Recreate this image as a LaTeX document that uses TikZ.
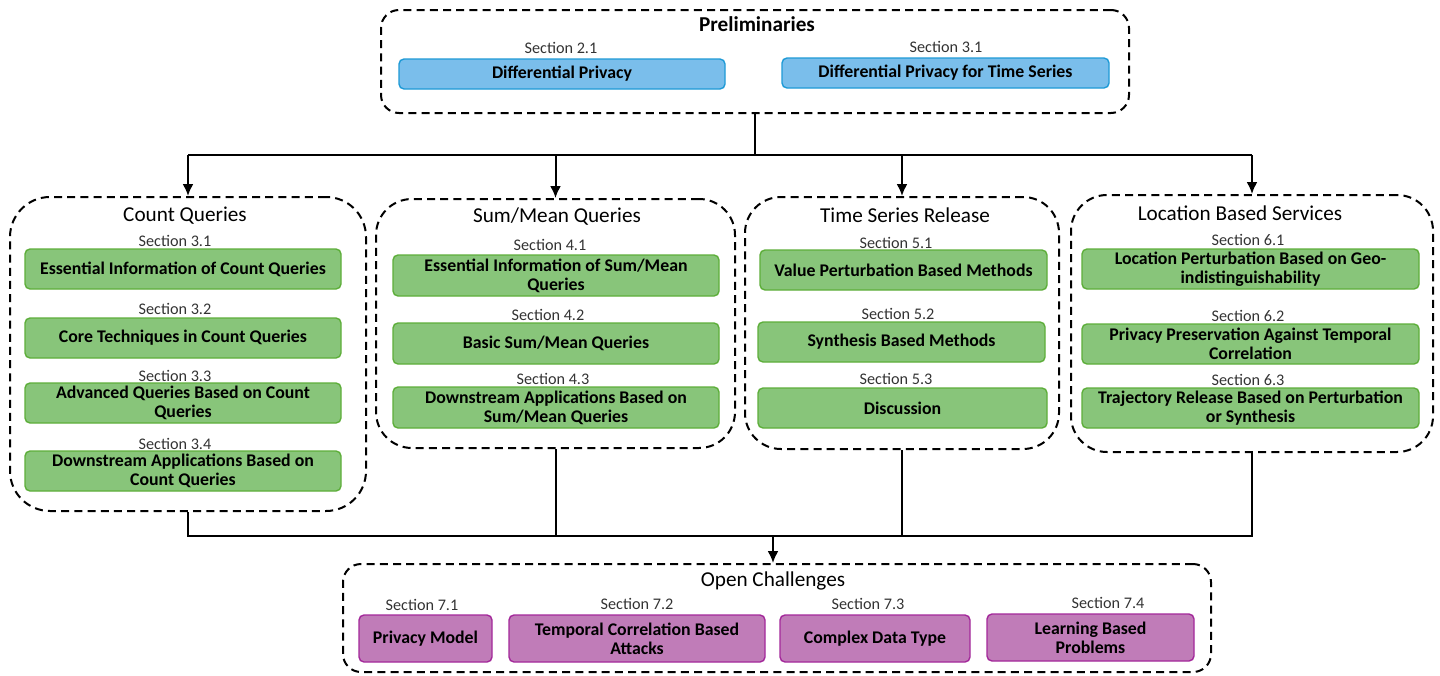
\documentclass[tikz,border=0pt]{standalone}
\usepackage{fontspec}
\setmainfont{Carlito}
\usetikzlibrary{fit,arrows.meta}
\definecolor{bfill}{HTML}{7ABEEB}
\definecolor{bline}{HTML}{1E9AD6}
\definecolor{gfill}{HTML}{88C57A}
\definecolor{gline}{HTML}{5DAE3A}
\definecolor{pfill}{HTML}{C07CB8}
\definecolor{pline}{HTML}{A3289A}
\definecolor{sectxt}{HTML}{333333}
\tikzset{
  x=0.5pt, y=-0.5pt,
  grp/.style={draw=black, line width=1pt, dash pattern=on 4pt off 2.6pt, inner sep=0pt},
  item/.style={inner sep=0pt, line width=0.7pt, rounded corners=2.5pt},
  itxt/.style={inner sep=0pt, align=center, font=\fontsize{8.9}{9.6}\selectfont\bfseries},
  bitem/.style={item, draw=bline, fill=bfill},
  gitem/.style={item, draw=gline, fill=gfill},
  pitem/.style={item, draw=pline, fill=pfill},
  sec/.style={inner sep=0pt, text=sectxt, font=\fontsize{8.1}{9}\selectfont},
  ttl/.style={inner sep=0pt, font=\fontsize{10.6}{12}\selectfont},
  conn/.style={line width=1pt},
  arr/.style={conn, -{Latex[length=6pt,width=5.5pt]}},
}
% \itembox{style}{name}{x1}{y1}{x2}{y2}{text}
\newcommand{\itembox}[7]{%
  \node[#1, fit={(#3,#4)(#5,#6)}] (#2) {};
  \node[itxt] (#2-t) at (#2.center) {#7};
}
\begin{document}
\begin{tikzpicture}
\useasboundingbox (0,0) rectangle (1440,675);

% Preliminaries
\node[grp, rounded corners=9pt, fit={(381,10)(1129,113)}] (pre) {};
\node[ttl] (preT) at (757,24) {\bfseries Preliminaries};
\node[sec] (s21) at (561,48) {Section 2.1};
\itembox{bitem}{dp}{399}{59}{725}{89}{Differential Privacy}
\node[sec] (s31a) at (946,47) {Section 3.1};
\itembox{bitem}{dpts}{782}{58}{1109}{88}{Differential Privacy for Time Series}

% Count Queries
\node[grp, rounded corners=20pt, fit={(10,197)(366,511)}] (cq) {};
\node[ttl] (cqT) at (185,216) {Count Queries};
\node[sec] (s31) at (175,241) {Section 3.1};
\itembox{gitem}{cq1}{25}{249}{341}{289}{Essential Information of Count Queries}
\node[sec] (s32) at (175,309) {Section 3.2};
\itembox{gitem}{cq2}{25}{318}{341}{358}{Core Techniques in Count Queries}
\node[sec] (s33) at (175,376) {Section 3.3};
\itembox{gitem}{cq3}{25}{383}{341}{423}{Advanced Queries Based on Count\\Queries}
\node[sec] (s34) at (175,444) {Section 3.4};
\itembox{gitem}{cq4}{25}{451}{341}{491}{Downstream Applications Based on\\Count Queries}

% Sum/Mean Queries
\node[grp, rounded corners=18pt, fit={(376,199)(735,448)}] (sm) {};
\node[ttl] (smT) at (557,217) {Sum/Mean Queries};
\node[sec] (s41) at (550,245) {Section 4.1};
\itembox{gitem}{sm1}{393}{255}{719}{296}{Essential Information of Sum/Mean\\Queries}
\node[sec] (s42) at (548,315) {Section 4.2};
\itembox{gitem}{sm2}{393}{323}{719}{364}{Basic Sum/Mean Queries}
\node[sec] (s43) at (553,379) {Section 4.3};
\itembox{gitem}{sm3}{393}{387}{719}{428}{Downstream Applications Based on\\Sum/Mean Queries}

% Time Series Release
\node[grp, rounded corners=18pt, fit={(745,197)(1059,449)}] (ts) {};
\node[ttl] (tsT) at (905,215) {Time Series Release};
\node[sec] (s51) at (896,243) {Section 5.1};
\itembox{gitem}{ts1}{760}{250}{1047}{290}{Value Perturbation Based Methods}
\node[sec] (s52) at (898,314) {Section 5.2};
\itembox{gitem}{ts2}{758}{322}{1045}{362}{Synthesis Based Methods}
\node[sec] (s53) at (896,379) {Section 5.3};
\itembox{gitem}{ts3}{758}{388}{1047}{428}{Discussion}

% Location Based Services
\node[grp, rounded corners=18pt, fit={(1071,195)(1433,452)}] (lbs) {};
\node[ttl] (lbsT) at (1240,213) {Location Based Services};
\node[sec] (s61) at (1248,240) {Section 6.1};
\itembox{gitem}{lb1}{1082}{249}{1419}{289}{Location Perturbation Based on Geo-\\indistinguishability}
\node[sec] (s62) at (1248,316) {Section 6.2};
\itembox{gitem}{lb2}{1082}{324}{1419}{364}{Privacy Preservation Against Temporal\\Correlation}
\node[sec] (s63) at (1248,380) {Section 6.3};
\itembox{gitem}{lb3}{1082}{388}{1419}{428}{Trajectory Release Based on Perturbation\\or Synthesis}

% Open Challenges
\node[grp, rounded corners=9pt, fit={(343,564)(1211,672)}] (oc) {};
\node[ttl] (ocT) at (773,581) {Open Challenges};
\node[sec] (s71) at (422,605) {Section 7.1};
\itembox{pitem}{oc1}{359}{615}{492}{662}{Privacy Model}
\node[sec] (s72) at (637,604) {Section 7.2};
\itembox{pitem}{oc2}{509}{615}{765}{662}{Temporal Correlation Based\\Attacks}
\node[sec] (s73) at (868,604) {Section 7.3};
\itembox{pitem}{oc3}{780}{615}{970}{662}{Complex Data Type}
\node[sec] (s74) at (1108,603) {Section 7.4};
\itembox{pitem}{oc4}{987}{614}{1194}{661}{Learning Based\\Problems}

% top connectors
\coordinate (bus1) at (755,155);
\draw[conn] (pre.south) -- (bus1);
\draw[conn] (cq.north |- bus1) -- (lbs.north |- bus1);
\draw[arr] (cq.north |- bus1) -- (cq.north);
\draw[arr] (sm.north |- bus1) -- (sm.north);
\draw[arr] (ts.north |- bus1) -- (ts.north);
\draw[arr] (lbs.north |- bus1) -- (lbs.north);

% bottom connectors
\coordinate (bus2) at (773,536);
\draw[conn] (cq.south) -- (cq.south |- bus2) -- (lbs.south |- bus2) -- (lbs.south);
\draw[conn] (sm.south) -- (sm.south |- bus2);
\draw[conn] (ts.south) -- (ts.south |- bus2);
\draw[arr] (bus2) -- (bus2 |- oc.north);
\end{tikzpicture}
\end{document}
